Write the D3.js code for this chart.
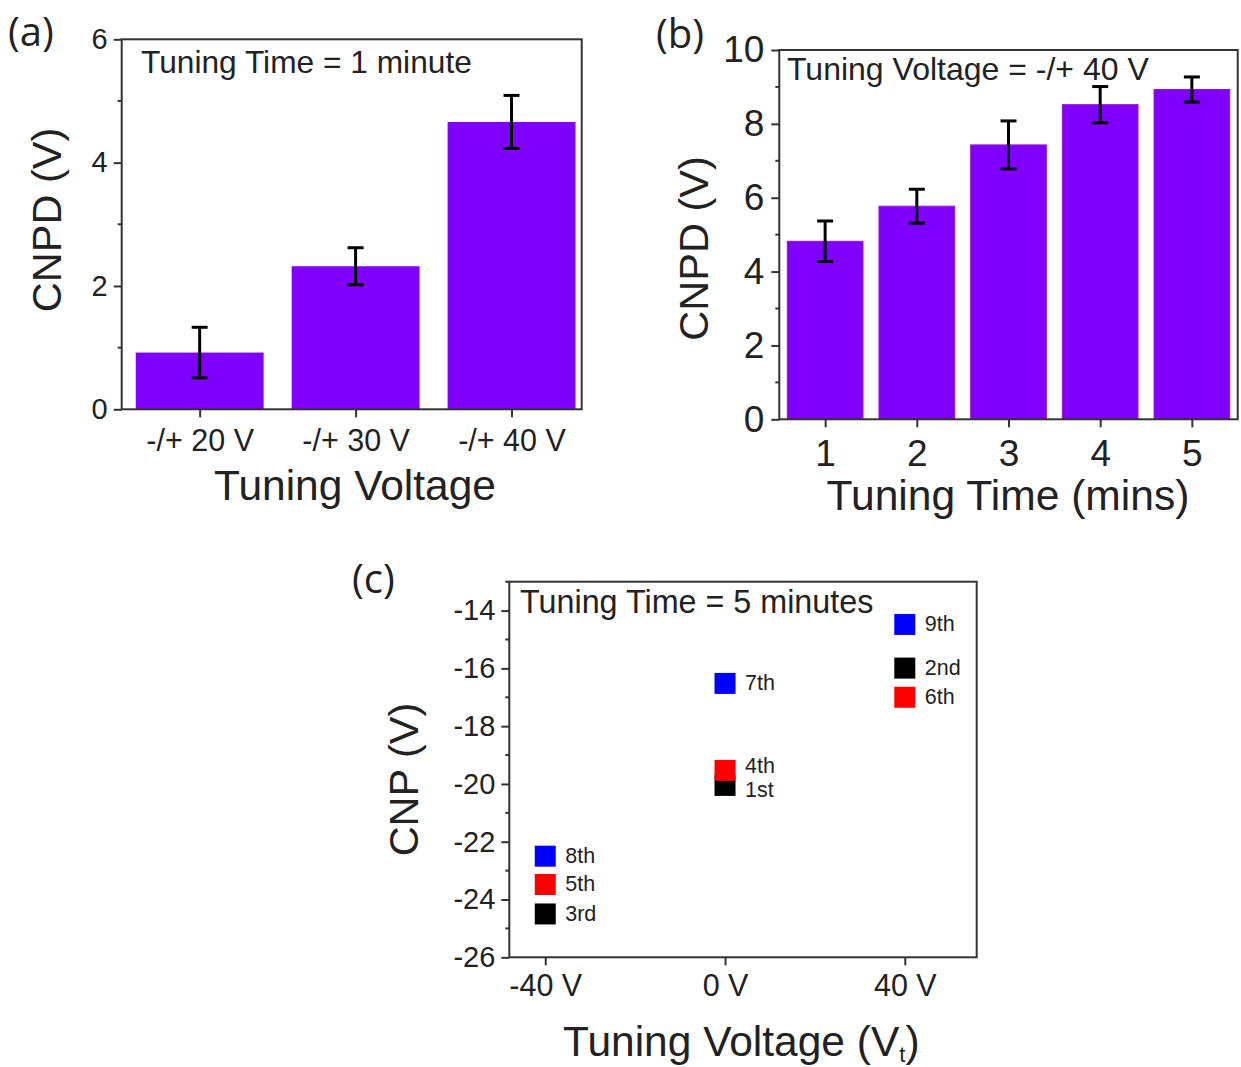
<!DOCTYPE html>
<html>
<head>
<meta charset="utf-8">
<script src="https://cdn.jsdelivr.net/npm/d3@7/dist/d3.min.js"></script>
<style>
  html, body { margin: 0; padding: 0; background: #fff; }
  svg text { font-family: "Liberation Sans", Arial, sans-serif; fill: #222; }
  svg text.panel-tag { font-family: "Open Sans", "Noto Sans", sans-serif; }
</style>
</head>
<body>
<svg id="fig" width="1241" height="1067"></svg>
<script>
// ---- (a) CNPD vs tuning voltage, 1 minute tuning ----
const aCategories = ["-/+ 20 V", "-/+ 30 V", "-/+ 40 V"];
const aValues = [0.92, 2.32, 4.66];
const aErrors = [0.41, 0.30, 0.43];
const aYTicks = [0, 2, 4, 6];
const aYMinor = [1, 3, 5];

// ---- (b) CNPD vs tuning time, -/+ 40 V ----
const bTimes = [1, 2, 3, 4, 5];
const bValues = [4.82, 5.77, 7.43, 8.52, 8.93];
const bErrors = [0.55, 0.46, 0.65, 0.49, 0.34];
const bYTicks = [0, 2, 4, 6, 8, 10];
const bYMinor = [1, 3, 5, 7, 9];

// ---- (c) CNP after each tuning step, 5 minutes ----
const cOrder = ["1st", "2nd", "3rd", "4th", "5th", "6th", "7th", "8th", "9th"];
const cVoltage = [0, 40, -40, 0, -40, 40, 0, -40, 40];
const cCNP = [-20.05, -15.99, -24.5, -19.53, -23.48, -17.0, -16.52, -22.5, -14.48];
const cGroup = ["black", "black", "black", "red", "red", "red", "blue", "blue", "blue"];
const cXTicks = [-40, 0, 40];
const cYTicks = [-26, -24, -22, -20, -18, -16, -14];
const cYMinor = [-25, -23, -21, -19, -17, -15, -13];

const BAR = "#7f00ff";
const AXIS = "#333";
const svg = d3.select("#fig");

function frame(x0, x1, y0, y1) {
  svg.append("rect")
    .attr("x", x0).attr("y", y1)
    .attr("width", x1 - x0).attr("height", y0 - y1)
    .attr("fill", "none").attr("stroke", AXIS).attr("stroke-width", 2);
}

function styleAxis(g, fontSize) {
  g.select(".domain").remove();
  g.selectAll(".tick line").attr("stroke", AXIS).attr("stroke-width", 2);
  g.selectAll(".tick text").attr("fill", "#222").attr("font-size", fontSize)
    .attr("font-family", "Liberation Sans, Arial, sans-serif");
}

function minorTicks(scale, values, xPos, len) {
  svg.append("g").selectAll("line").data(values).join("line")
    .attr("x1", xPos - len).attr("x2", xPos)
    .attr("y1", d => scale(d)).attr("y2", d => scale(d))
    .attr("stroke", AXIS).attr("stroke-width", 2);
}

function errorBars(x, y, xs, vals, errs, cap) {
  const g = svg.append("g").attr("stroke", "#000").attr("stroke-width", 3);
  vals.forEach((v, i) => {
    const cx = x(xs[i]);
    const yt = y(v + errs[i]), yb = y(v - errs[i]);
    g.append("line").attr("x1", cx).attr("x2", cx).attr("y1", yt).attr("y2", yb);
    g.append("line").attr("x1", cx - cap).attr("x2", cx + cap).attr("y1", yt).attr("y2", yt);
    g.append("line").attr("x1", cx - cap).attr("x2", cx + cap).attr("y1", yb).attr("y2", yb);
  });
}

// ================= Panel (a) =================
{
  const idx = aCategories.map((_, i) => i + 1);
  const x = d3.scaleLinear().domain([0.5, 3.45]).range([121.7, 581.7]);
  const y = d3.scaleLinear().domain([0, 6]).range([409.3, 39.3]);
  const bw = 0.82 * (x(2) - x(1));

  svg.append("g").selectAll("rect").data(aValues).join("rect")
    .attr("x", (d, i) => x(idx[i]) - bw / 2)
    .attr("y", d => y(d))
    .attr("width", bw)
    .attr("height", d => y(0) - y(d))
    .attr("fill", BAR);

  errorBars(x, y, idx, aValues, aErrors, 8);
  frame(x.range()[0], x.range()[1], y.range()[0], y.range()[1]);

  const ya = svg.append("g").attr("transform", `translate(${x.range()[0]},0)`)
    .call(d3.axisLeft(y).tickValues(aYTicks).tickSize(8).tickSizeOuter(0).tickPadding(6).tickFormat(d => String(d)));
  styleAxis(ya, 29);
  minorTicks(y, aYMinor, x.range()[0], 4);

  const xa = svg.append("g").attr("transform", `translate(0,${y.range()[0]})`)
    .call(d3.axisBottom(x).tickValues(idx).tickSize(8).tickSizeOuter(0).tickPadding(12)
      .tickFormat(d => aCategories[d - 1]));
  styleAxis(xa, 30.5);

  svg.append("text").attr("x", 141).attr("y", 73).attr("font-size", 31.7).text("Tuning Time = 1 minute");
  svg.append("text").attr("x", 355).attr("y", 500).attr("text-anchor", "middle")
    .attr("font-size", 42.5).text("Tuning Voltage");
  svg.append("text").attr("transform", "translate(61,220) rotate(-90)").attr("text-anchor", "middle")
    .attr("font-size", 41.5).text("CNPD (V)");
  svg.append("text").attr("class", "panel-tag").attr("x", 8).attr("y", 46)
    .attr("font-size", 40).text("(a)");
}

// ================= Panel (b) =================
{
  const x = d3.scaleLinear().domain([0.5, 5.5]).range([779.3, 1237.7]);
  const y = d3.scaleLinear().domain([0, 10]).range([419.3, 50]);
  const bw = 0.825 * (x(2) - x(1));

  svg.append("g").selectAll("rect").data(bValues).join("rect")
    .attr("x", (d, i) => x(bTimes[i]) - bw / 2)
    .attr("y", d => y(d))
    .attr("width", bw)
    .attr("height", d => y(0) - y(d))
    .attr("fill", BAR).attr("stroke", "#9a10c8").attr("stroke-width", 1);

  errorBars(x, y, bTimes, bValues, bErrors, 8);
  frame(x.range()[0], x.range()[1], y.range()[0], y.range()[1]);

  const ya = svg.append("g").attr("transform", `translate(${x.range()[0]},0)`)
    .call(d3.axisLeft(y).tickValues(bYTicks).tickSize(8).tickSizeOuter(0).tickPadding(7).tickFormat(d => String(d)));
  styleAxis(ya, 37);
  minorTicks(y, bYMinor, x.range()[0], 4);

  const xa = svg.append("g").attr("transform", `translate(0,${y.range()[0]})`)
    .call(d3.axisBottom(x).tickValues(bTimes).tickSize(8).tickSizeOuter(0).tickPadding(12).tickFormat(d => String(d)));
  styleAxis(xa, 37);

  svg.append("text").attr("x", 787).attr("y", 80).attr("font-size", 32).text("Tuning Voltage = -/+ 40 V");
  svg.append("text").attr("x", 1008).attr("y", 510).attr("text-anchor", "middle")
    .attr("font-size", 42.6).text("Tuning Time (mins)");
  svg.append("text").attr("transform", "translate(708,248.5) rotate(-90)").attr("text-anchor", "middle")
    .attr("font-size", 41.5).text("CNPD (V)");
  svg.append("text").attr("class", "panel-tag").attr("x", 656).attr("y", 48)
    .attr("font-size", 40).text("(b)");
}

// ================= Panel (c) =================
{
  const x = d3.scaleLinear().domain([-48, 56]).range([509.3, 976.7]);
  const y = d3.scaleLinear().domain([-26, -13]).range([957.3, 581.7]);
  const colors = { black: "#000000", red: "#ff0000", blue: "#0000ff" };
  // vertical nudges keep the two stacked labels at 0 V apart
  const labelNudge = { "4th": -4, "1st": 5 };
  const s = 21;

  frame(x.range()[0], x.range()[1], y.range()[0], y.range()[1]);

  const ya = svg.append("g").attr("transform", `translate(${x.range()[0]},0)`)
    .call(d3.axisLeft(y).tickValues(cYTicks).tickSize(8).tickSizeOuter(0).tickPadding(6).tickFormat(d => String(d)));
  styleAxis(ya, 29);
  minorTicks(y, cYMinor, x.range()[0], 4);

  const xa = svg.append("g").attr("transform", `translate(0,${y.range()[0]})`)
    .call(d3.axisBottom(x).tickValues(cXTicks).tickSize(8).tickSizeOuter(0).tickPadding(9)
      .tickFormat(d => String(d) + " V"));
  styleAxis(xa, 30.5);

  const pts = svg.append("g");
  pts.selectAll("rect").data(cCNP).join("rect")
    .attr("x", (d, i) => x(cVoltage[i]) - s / 2)
    .attr("y", d => y(d) - s / 2)
    .attr("width", s).attr("height", s)
    .attr("fill", (d, i) => colors[cGroup[i]]);
  pts.selectAll("text").data(cCNP).join("text")
    .attr("x", (d, i) => x(cVoltage[i]) + 20)
    .attr("y", (d, i) => y(d) + 7 + (labelNudge[cOrder[i]] || 0))
    .attr("font-size", 21.5)
    .text((d, i) => cOrder[i]);

  svg.append("text").attr("x", 520).attr("y", 613).attr("font-size", 32.3).text("Tuning Time = 5 minutes");

  const xt = svg.append("text").attr("x", 563).attr("y", 1056).attr("font-size", 42.5);
  xt.append("tspan").text("Tuning Voltage (V");
  xt.append("tspan").attr("font-size", 22).attr("dy", 6).text("t");
  xt.append("tspan").attr("dy", -6).text(")");

  svg.append("text").attr("transform", "translate(418,779.5) rotate(-90)").attr("text-anchor", "middle")
    .attr("font-size", 41.5).text("CNP (V)");
  svg.append("text").attr("class", "panel-tag").attr("x", 352).attr("y", 593)
    .attr("font-size", 40).text("(c)");
}
</script>
</body>
</html>
